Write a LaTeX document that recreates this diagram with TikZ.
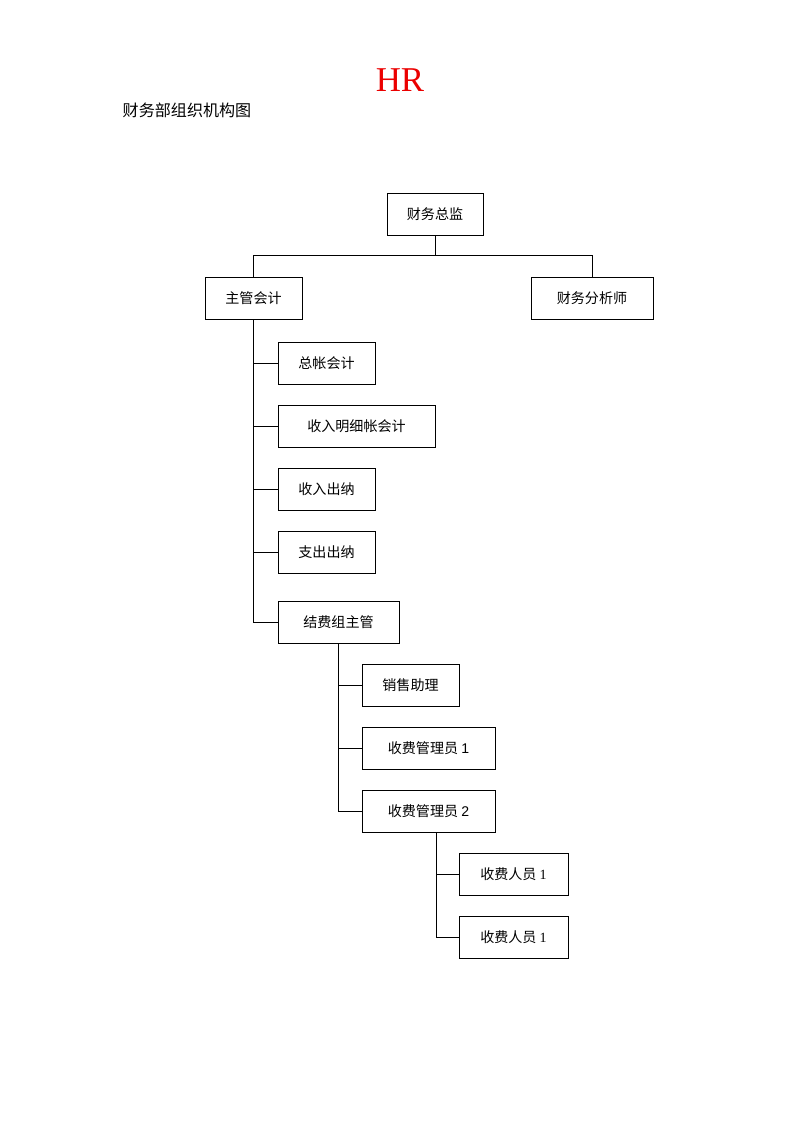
\documentclass[tikz,border=0pt]{standalone}
\usepackage{fontspec}
\setmainfont{Liberation Serif}
\newfontfamily\cjk{Noto Sans CJK SC}
\newfontfamily\digsans{Liberation Sans}
\usepackage{tikz}

\begin{document}
\begin{tikzpicture}[x=0.02625cm, y=-0.02625cm,
        box/.style={draw, line width=0.7pt, minimum height=1.1025cm, inner sep=0pt, font=\cjk\fontsize{10.5}{12}\selectfont},
        w/.style={minimum width=#1*0.02625cm},
        link/.style={line width=0.7pt}]
            % page frame
            \useasboundingbox (0,0) rectangle (800,1132);

            % Draw titles
            \node[text=red!92!black, font=\fontsize{26}{30}\selectfont] (title) at (400,80) {HR};
            \node[anchor=west, font=\cjk\fontsize{12}{14}\selectfont] (sub) at (118,110) {财务部组织机构图};

            % Draw boxes
            \node[box, w=96]  (zj)  at (435,214)   {财务总监};
            \node[box, w=97]  (zg)  at (253.5,298) {主管会计};
            \node[box, w=122] (fx)  at (592,298)   {财务分析师};
            \node[box, w=97]  (zz)  at (326.5,363) {总帐会计};
            \node[box, w=157] (mx)  at (356.5,426) {收入明细帐会计};
            \node[box, w=97]  (sr)  at (326.5,489) {收入出纳};
            \node[box, w=97]  (zc)  at (326.5,552) {支出出纳};
            \node[box, w=121] (jf)  at (338.5,622) {结费组主管};
            \node[box, w=97]  (xs)  at (410.5,685) {销售助理};
            \node[box, w=133] (gl1) at (428.5,748) {收费管理员 {\digsans 1}};
            \node[box, w=133] (gl2) at (428.5,811) {收费管理员 {\digsans 2}};
            \node[box, w=109] (ry1) at (513.5,874) {收费人员 {\rmfamily 1}};
            \node[box, w=109] (ry2) at (513.5,937) {收费人员 {\rmfamily 1}};

            % Draw connectors
            \draw[link] (zj.south) -- ++(0,20) -| (zg.north);
            \draw[link] (zj.south) -- ++(0,20) -| (fx.north);

            \foreach \n in {zz,mx,sr,zc,jf}
              \draw[link] (zg.south) |- (\n.west);

            \foreach \n in {xs,gl1,gl2}
              \draw[link] (jf.south) |- (\n.west);

            \coordinate (t3) at (436,832);
            \foreach \n in {ry1,ry2}
              \draw[link] (t3) |- (\n.west);
        \end{tikzpicture}
\end{document}
